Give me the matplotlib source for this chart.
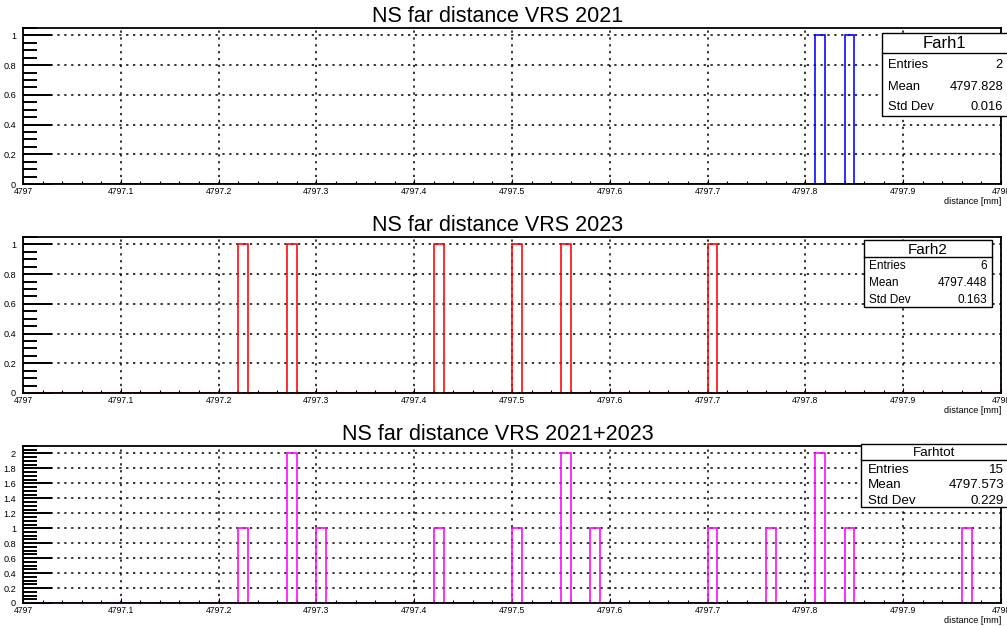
import numpy as np
import matplotlib
matplotlib.use('Agg')
import matplotlib.pyplot as plt
from matplotlib.patches import Rectangle
from matplotlib.ticker import MultipleLocator, FuncFormatter

plt.rcParams['font.family'] = ['Liberation Sans', 'DejaVu Sans']

# Data (bin centres, 0.01 mm bins)
vals_2021 = [4797.815, 4797.845]
vals_2023 = [4797.225, 4797.275, 4797.425, 4797.505, 4797.555, 4797.705]
vals_tot = [4797.225, 4797.275, 4797.275, 4797.305, 4797.425, 4797.505, 4797.555,
            4797.555, 4797.585, 4797.705, 4797.765, 4797.815, 4797.815, 4797.845, 4797.965]
titles = ['NS far distance VRS 2021', 'NS far distance VRS 2023', 'NS far distance VRS 2021+2023']
stat_names = ['Farh1', 'Farh2', 'Farhtot']
stat_entries = ['2', '6', '15']
stat_mean = ['4797.828', '4797.448', '4797.573']
stat_std = ['0.016', '0.163', '0.229']
colors = ['#0000ff', '#ff0000', '#ff00ff']
edges = np.linspace(4797, 4798, 101)

W, H = 1007, 626
fig = plt.figure(figsize=(W/100, H/100), dpi=100)

def fx(x): return x/W
def fy(y): return 1-y/H

# axes (top, bottom) in pixels, y max, title baseline
panels = [(28, 184, 1.05, 22), (237, 393, 1.05, 231), (446, 603, 2.1, 440)]
# stats box: x0, x1, top, sep, bottom, label x, value x, title size, row size, row shift
boxes = [(882, 1010, 33, 53, 116, 888, 1003, 12, 9.3, 2),
         (864, 992, 240, 257, 307, 869, 987, 11, 8.5, 1),
         (861, 1010, 444, 460, 507, 868, 1004, 9.6, 9.6, 2)]
data = [vals_2021, vals_2023, vals_tot]

for i in range(3):
    top, bot, ymax, tb = panels[i]
    ax = fig.add_axes([fx(23), fy(bot), fx(1001)-fx(23), fy(top)-fy(bot)])
    ax.hist(data[i], bins=edges, histtype='step', color=colors[i], linewidth=1.15)
    ax.set_xlim(4797, 4798)
    ax.set_ylim(0, ymax)
    ax.xaxis.set_major_locator(MultipleLocator(0.1))
    ax.xaxis.set_minor_locator(MultipleLocator(0.02))
    ax.yaxis.set_major_locator(MultipleLocator(0.2))
    ax.yaxis.set_minor_locator(MultipleLocator(0.05))
    fmt = FuncFormatter(lambda v, p: '%g' % round(v, 4))
    ax.xaxis.set_major_formatter(fmt)
    ax.yaxis.set_major_formatter(fmt)
    ax.tick_params(axis='x', which='major', direction='in', length=3.6, width=0.8, labelsize=6.2, pad=2)
    ax.tick_params(axis='x', which='minor', direction='in', length=2, width=0.8)
    ax.tick_params(axis='y', which='major', direction='in', length=21, width=1.4, labelsize=6.6, pad=5)
    ax.tick_params(axis='y', which='minor', direction='in', length=10, width=1.4)
    ax.grid(True, which='major', color='black', linestyle=(0, (1.5, 3)), linewidth=1.1)
    for s in ax.spines.values():
        s.set_linewidth(1.3)
    ax.annotate('distance [mm]', xy=(1, 0), xycoords='axes fraction', xytext=(0, -12.3),
                textcoords='offset points', ha='right', va='center', fontsize=6.6)
    fig.text(fx(498), fy(tb), titles[i], ha='center', va='baseline', fontsize=15.5)

    # stats box
    x0, x1, bt, sep, bb, lx, vx, ts, rs, sh = boxes[i]
    fig.add_artist(Rectangle((fx(x0), fy(bb)), fx(x1)-fx(x0), fy(bt)-fy(bb),
                             transform=fig.transFigure, facecolor='white', edgecolor='black',
                             linewidth=1, zorder=5))
    fig.add_artist(plt.Line2D([fx(x0), fx(x1)], [fy(sep), fy(sep)], transform=fig.transFigure,
                              color='black', linewidth=1, zorder=6))
    fig.text(fx((x0+min(x1, 1007))/2), fy((bt+sep)/2+1), stat_names[i], ha='center', va='center',
             fontsize=ts, zorder=7)
    rows = [('Entries', stat_entries[i]), ('Mean', stat_mean[i]), ('Std Dev', stat_std[i])]
    rh = (bb-sep)/3
    for k, (lab, v) in enumerate(rows):
        yy = fy(sep+rh*(k+0.5)+sh)
        fig.text(fx(lx), yy, lab, ha='left', va='center', fontsize=rs, zorder=7)
        fig.text(fx(vx), yy, v, ha='right', va='center', fontsize=rs, zorder=7)

fig.savefig('out.png', dpi=100)
